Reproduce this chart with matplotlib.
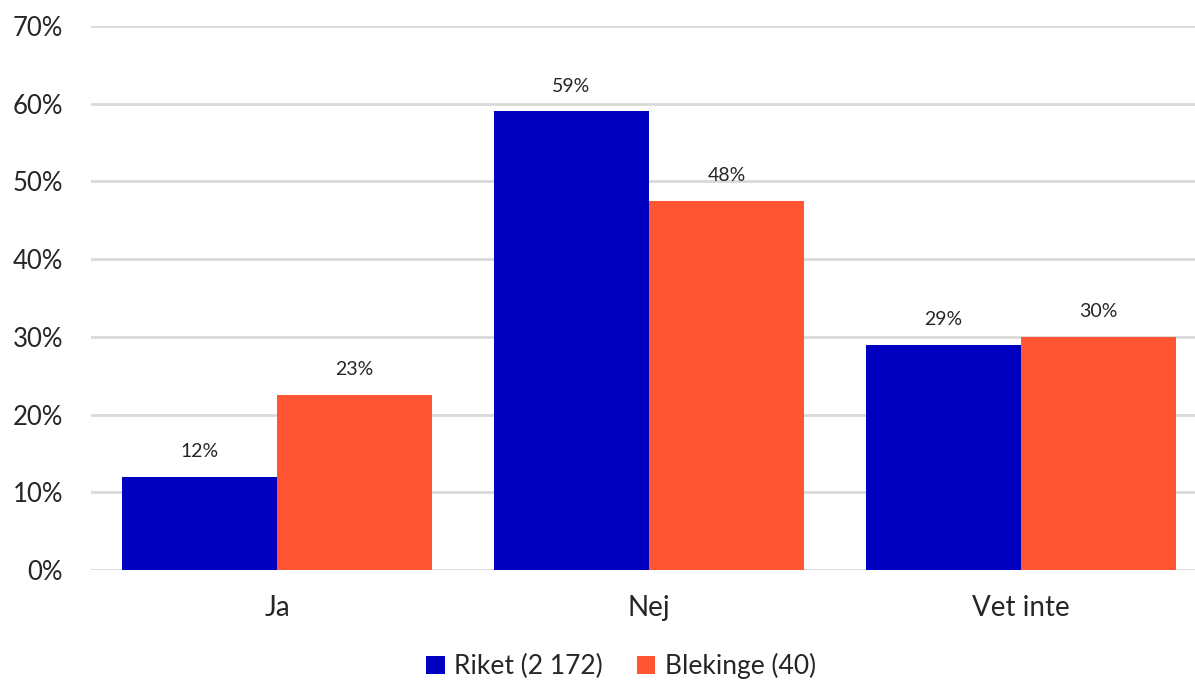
import matplotlib
matplotlib.use("Agg")
import matplotlib.pyplot as plt
import numpy as np

categories = ["Ja", "Nej", "Vet inte"]
riket = [12, 59, 29]
blekinge = [22.5, 47.5, 30]
riket_labels = ["12%", "59%", "29%"]
blekinge_labels = ["23%", "48%", "30%"]
series_names = ["Riket (2 172)", "Blekinge (40)"]
yticks = [0, 10, 20, 30, 40, 50, 60, 70]

plt.rcParams['font.family'] = ['Lato', 'DejaVu Sans']

fig = plt.figure(figsize=(11.95, 6.81), dpi=100)
ax = fig.add_axes([91/1195, 111/681, 1116/1195, 544/681])

x = np.arange(len(categories))
w = 0.417
b1 = ax.bar(x - w/2, riket, w, color="#0000C0", label=series_names[0], zorder=3)
b2 = ax.bar(x + w/2, blekinge, w, color="#FF5533", label=series_names[1], zorder=3)

for bars, labels in ((b1, riket_labels), (b2, blekinge_labels)):
    for rect, lab in zip(bars, labels):
        ax.annotate(lab, (rect.get_x() + rect.get_width()/2, rect.get_height()),
                    xytext=(0, 12), textcoords="offset points",
                    ha="center", va="bottom", fontsize=14, color="#262626")

ax.set_xlim(-0.5, 2.5)
ax.set_ylim(0, 70)
ax.set_yticks(yticks)
ax.set_yticklabels([f"{t}%" for t in yticks], fontsize=18.5, color="#262626")
ax.set_xticks(x)
ax.set_xticklabels(categories, fontsize=20, color="#262626")
ax.tick_params(axis="both", length=0)
ax.tick_params(axis="y", pad=20)
ax.tick_params(axis="x", pad=18)
ax.yaxis.grid(True, color="#D9D9D9", linewidth=2, zorder=0)
ax.set_axisbelow(True)
for s in ax.spines.values():
    s.set_visible(False)

fig.legend(handles=[b1, b2], labels=series_names, loc="center",
           bbox_to_anchor=(621/1195, 1 - 666/681), ncol=2, frameon=False,
           fontsize=19, handlelength=0.7, handleheight=0.7, handletextpad=0.35,
           columnspacing=1.3, labelcolor="#262626")

fig.savefig("out.png", dpi=100)
